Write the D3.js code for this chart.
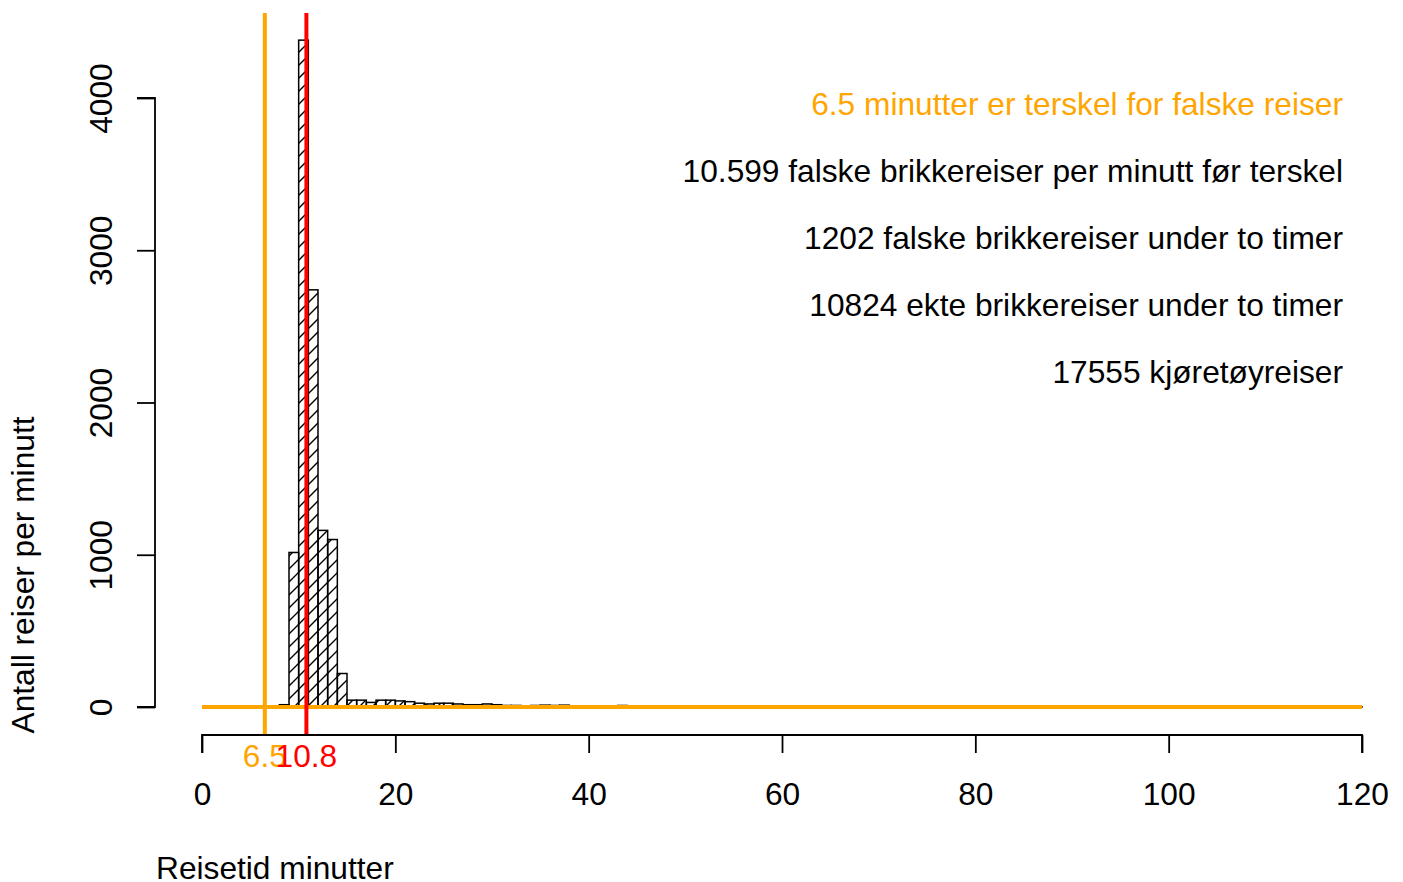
<!DOCTYPE html>
<html>
<head>
<meta charset="utf-8">
<script src="https://cdn.jsdelivr.net/npm/d3@7"></script>
<style>
  html, body { margin: 0; padding: 0; background: #fff; }
  svg { display: block; font-family: "Liberation Sans", Arial, sans-serif; }
</style>
</head>
<body>
<svg id="chart" width="1403" height="882"></svg>
<script>
// ---- data (1-minute bins, starting at 0) ----
const binStarts = d3.range(0, 120);
const counts = [
  0, 0, 0, 0, 8, 0, 0, 0, 15, 1015,
  4380, 2740, 1160, 1100, 220, 45, 45, 30, 45, 45,
  40, 35, 25, 20, 25, 25, 20, 15, 15, 20,
  15, 10, 10, 8, 10, 12, 10, 12, 8, 8,
  6, 6, 8, 10, 5, 5, 4, 4, 5, 4,
  4, 3, 3, 4, 3, 3, 3, 2, 3, 2,
  2, 3, 2, 2, 2, 2, 2, 2, 2, 2,
  2, 2, 2, 2, 2, 2, 2, 2, 2, 2,
  2, 1, 2, 1, 2, 1, 1, 2, 1, 1,
  1, 1, 1, 1, 1, 1, 1, 2, 1, 3,
  1, 1, 1, 1, 1, 1, 1, 1, 1, 1,
  1, 1, 1, 1, 1, 1, 1, 1, 1, 1
];
const xTicks = [0, 20, 40, 60, 80, 100, 120];
const yTicks = [0, 1000, 2000, 3000, 4000];
const threshold = 6.5;
const median = 10.8;
const infoLines = [
  { text: "6.5 minutter er terskel for falske reiser", color: "orange" },
  { text: "10.599 falske brikkereiser per minutt før terskel", color: "black" },
  { text: "1202 falske brikkereiser under to timer", color: "black" },
  { text: "10824 ekte brikkereiser under to timer", color: "black" },
  { text: "17555 kjøretøyreiser", color: "black" }
];
const xLabel = "Reisetid minutter";
const yLabel = "Antall reiser per minutt";

// ---- layout ----
const svg = d3.select("#chart");
const FS = 31.7;
const x = d3.scaleLinear().domain([0, 120]).range([202, 1362]);
const y = d3.scaleLinear().domain([0, 4000]).range([707, 98]);
const plotTop = 13, plotBottom = 735;

// hatch pattern
const defs = svg.append("defs");
const H = 13;
const pat = defs.append("pattern")
  .attr("id", "hatch").attr("patternUnits", "userSpaceOnUse")
  .attr("width", H).attr("height", H);
pat.append("path")
  .attr("d", `M0,${H} L${H},0 M-2,2 L2,-2 M${H-2},${H+2} L${H+2},${H-2}`)
  .attr("stroke", "#000").attr("stroke-width", 1.4);

// bars
const bars = svg.append("g");
bars.selectAll("rect").data(binStarts).join("rect")
  .attr("x", d => x(d))
  .attr("width", d => x(d + 1) - x(d))
  .attr("y", (d, i) => y(counts[i]))
  .attr("height", (d, i) => y(0) - y(counts[i]))
  .attr("fill", "url(#hatch)")
  .attr("stroke", "#000")
  .attr("stroke-width", 1.5);

// orange baseline
svg.append("line")
  .attr("x1", x(0)).attr("x2", x(120))
  .attr("y1", y(0)).attr("y2", y(0))
  .attr("stroke", "orange").attr("stroke-width", 4);

// vertical lines
svg.append("line")
  .attr("x1", x(threshold)).attr("x2", x(threshold))
  .attr("y1", plotTop).attr("y2", plotBottom)
  .attr("stroke", "orange").attr("stroke-width", 4);
svg.append("line")
  .attr("x1", x(median)).attr("x2", x(median))
  .attr("y1", plotTop).attr("y2", plotBottom)
  .attr("stroke", "red").attr("stroke-width", 4);

// x axis
const xAxis = d3.axisBottom(x).tickValues(xTicks).tickSize(18).tickFormat(d3.format("d"));
const gx = svg.append("g").attr("transform", `translate(0,${plotBottom})`).call(xAxis);
gx.select(".domain").attr("d", `M${x(0)},18V0H${x(120)}V18`).attr("stroke", "#000").attr("stroke-width", 1.8);
gx.selectAll(".tick line").attr("stroke", "#000").attr("stroke-width", 1.8);
gx.selectAll(".tick text").attr("font-size", FS).attr("fill", "#000")
  .attr("font-family", "Liberation Sans, Arial, sans-serif")
  .attr("dy", null).attr("y", 70);

// y axis
const yAxis = d3.axisLeft(y).tickValues(yTicks).tickSize(18).tickFormat(d3.format("d"));
const gy = svg.append("g").attr("transform", `translate(155,0)`).call(yAxis);
gy.select(".domain").attr("d", `M-18,${y(4000)}H0V${y(0)}H-18`).attr("stroke", "#000").attr("stroke-width", 1.8);
gy.selectAll(".tick line").attr("stroke", "#000").attr("stroke-width", 1.8);
gy.selectAll(".tick text")
  .attr("font-size", FS).attr("fill", "#000")
  .attr("font-family", "Liberation Sans, Arial, sans-serif")
  .attr("x", null).attr("dy", null)
  .attr("text-anchor", "middle")
  .attr("transform", "translate(-43,0) rotate(-90)");

// threshold labels
svg.append("text").attr("x", x(threshold)).attr("y", 767)
  .attr("text-anchor", "middle").attr("font-size", FS).attr("fill", "orange")
  .text(String(threshold));
svg.append("text").attr("x", x(median)).attr("y", 767)
  .attr("text-anchor", "middle").attr("font-size", FS).attr("fill", "red")
  .text(String(median));

// info text
svg.append("g").selectAll("text").data(infoLines).join("text")
  .attr("x", 1343)
  .attr("y", (d, i) => 115 + i * 67)
  .attr("text-anchor", "end")
  .attr("font-size", FS)
  .attr("fill", d => d.color)
  .text(d => d.text);

// axis titles
svg.append("text").attr("x", 156).attr("y", 879)
  .attr("font-size", FS).attr("fill", "#000").text(xLabel);
svg.append("text")
  .attr("transform", "translate(34,575) rotate(-90)")
  .attr("text-anchor", "middle")
  .attr("font-size", FS).attr("fill", "#000").text(yLabel);
</script>
</body>
</html>
